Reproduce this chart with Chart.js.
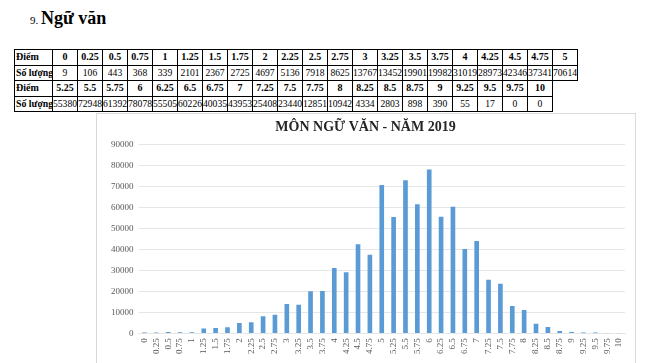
<!DOCTYPE html>
<html>
<head>
<meta charset="utf-8">
<script src="https://cdn.jsdelivr.net/npm/chart.js@4.4.0/dist/chart.umd.min.js"></script>
<style>
  body { margin: 0; background: #fff; font-family: "Liberation Serif", serif; }
  #heading { position: absolute; left: 30px; top: 8px; color: #000; white-space: nowrap; }
  #heading .num { font-size: 11px; }
  #heading .txt { font-size: 18px; font-weight: bold; }
  #tbl { position: absolute; left: 14px; top: 49px; width: 563px; border-collapse: collapse; table-layout: fixed; }
  #tbl td { border: 1px solid #000; height: 14.5px; padding: 0; font-size: 9.6px; text-align: center;
            white-space: nowrap; overflow: hidden; line-height: 12px; }
  #tbl td.lbl { text-align: left; font-weight: bold; padding-left: 1px; font-size: 9.8px; }
  #tbl tr.hdr td { font-weight: bold; font-size: 10px; }
  #tbl td.empty { border: none; }
  #box { position: absolute; left: 96px; top: 113px; width: 540px; height: 262px;
         border: 1px solid #d9d9d9; box-sizing: border-box; }
</style>
</head>
<body>
<div id="heading"><span class="num">9. </span><span class="txt">Ngữ văn</span></div>
<table id="tbl"></table>
<div id="box"><canvas id="myChart" width="538" height="245"></canvas></div>
<script>
// điểm (score) categories
const scores = ['0', '0.25', '0.5', '0.75', '1', '1.25', '1.5', '1.75', '2', '2.25', '2.5', '2.75',
  '3', '3.25', '3.5', '3.75', '4', '4.25', '4.5', '4.75', '5', '5.25', '5.5', '5.75', '6', '6.25',
  '6.5', '6.75', '7', '7.25', '7.5', '7.75', '8', '8.25', '8.5', '8.75', '9', '9.25', '9.5', '9.75', '10'];
// số lượng (number of candidates)
const counts = [9, 106, 443, 368, 339, 2101, 2367, 2725, 4697, 5136, 7918, 8625,
  13767, 13452, 19901, 19982, 31019, 28973, 42346, 37341, 70614, 55380, 72948, 61392, 78078, 55505,
  60226, 40035, 43953, 25408, 23440, 12851, 10942, 4334, 2803, 898, 390, 55, 17, 0, 0];
const yTicks = [0, 10000, 20000, 30000, 40000, 50000, 60000, 70000, 80000, 90000];

// table: first half 0..5 (21 cols), second half 5.25..10 (20 cols)
const colW = [38].concat(new Array(21).fill(25));
const tbl = document.getElementById('tbl');
const cg = document.createElement('colgroup');
colW.forEach(w => { const c = document.createElement('col'); c.style.width = w + 'px'; cg.appendChild(c); });
tbl.appendChild(cg);
function addRow(label, vals, hdr) {
  const tr = document.createElement('tr');
  if (hdr) tr.className = 'hdr';
  const th = document.createElement('td');
  th.className = 'lbl'; th.textContent = label; tr.appendChild(th);
  for (let i = 0; i < 21; i++) {
    const td = document.createElement('td');
    if (i < vals.length) td.textContent = vals[i]; else td.className = 'empty';
    tr.appendChild(td);
  }
  tbl.appendChild(tr);
}
addRow('Điểm', scores.slice(0, 21), true);
addRow('Số lượng', counts.slice(0, 21), false);
addRow('Điểm', scores.slice(21), true);
addRow('Số lượng', counts.slice(21), false);

const tickFont = { family: '"Liberation Serif", serif', size: 9 };
new Chart('myChart', {
  type: 'bar',
  data: {
    labels: scores,
    datasets: [{ data: counts, backgroundColor: 'rgb(91,155,213)', barThickness: 4 }]
  },
  options: {
    responsive: false,
    animation: false,
    layout: { padding: { left: 9, right: 10, top: 0, bottom: 0 } },
    plugins: {
      legend: { display: false },
      tooltip: { enabled: false },
      title: {
        display: true,
        text: 'MÔN NGỮ VĂN - NĂM 2019',
        color: '#262626',
        font: { family: '"Liberation Serif", serif', size: 14, weight: 'bold' },
        padding: { top: 5, bottom: 9 }
      }
    },
    scales: {
      x: {
        grid: { display: false, drawTicks: false },
        border: { display: true, color: '#e6e6e6' },
        ticks: { color: '#595959', font: tickFont, autoSkip: false, minRotation: 90, maxRotation: 90, padding: 5 }
      },
      y: {
        min: 0, max: 90000,
        afterBuildTicks: axis => { axis.ticks = yTicks.map(v => ({ value: v })); },
        grid: { color: '#e6e6e6', drawTicks: false },
        border: { display: false },
        ticks: { color: '#595959', font: tickFont, padding: 5, callback: v => String(v) }
      }
    }
  }
});
</script>
</body>
</html>
